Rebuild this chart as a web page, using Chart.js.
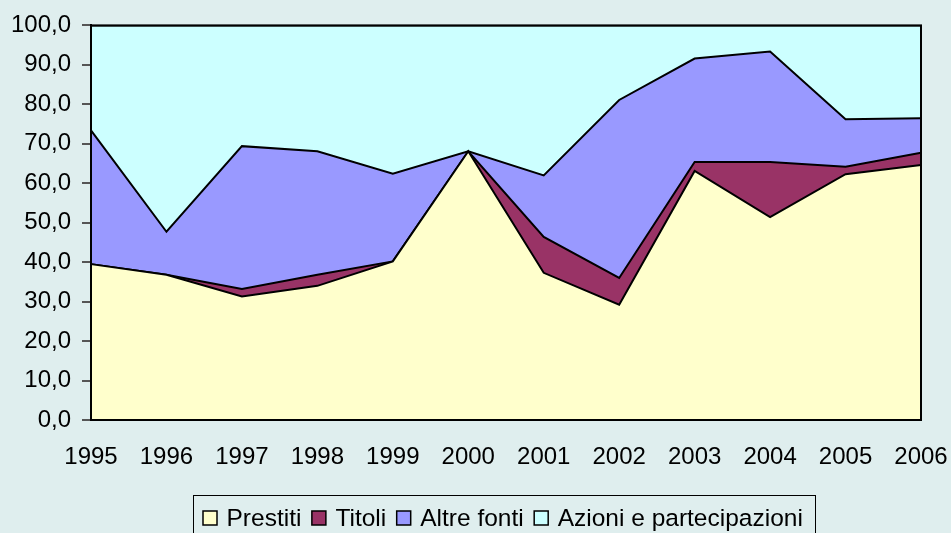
<!DOCTYPE html>
<html>
<head>
<meta charset="utf-8">
<title>Fonti di finanziamento</title>
<script src="https://cdn.jsdelivr.net/npm/chart.js@4.4.1/dist/chart.umd.min.js"></script>
<style>
    html, body { margin: 0; padding: 0; background: #dfeeee; }
    #wrap { width: 951px; height: 533px; position: relative; }
</style>
</head>
<body>
<div id="wrap"><canvas id="fontiChart"></canvas></div>
<script>
// Dati (valori percentuali, cumulati a 100)
const anni = ['1995', '1996', '1997', '1998', '1999', '2000', '2001', '2002', '2003', '2004', '2005', '2006'];
const prestiti = [39.5, 36.8, 31.3, 34.0, 40.2, 68.1, 37.3, 29.2, 63.1, 51.4, 62.3, 64.6];
const titoli = [0, 0, 1.9, 2.8, 0, 0, 9.1, 6.8, 2.3, 14.0, 1.9, 3.1];
const altreFonti = [33.9, 10.9, 36.2, 31.3, 22.2, 0, 15.6, 45.1, 26.2, 28.0, 12.0, 8.8];
const azioni = [26.6, 52.3, 30.6, 31.9, 37.6, 31.9, 38.0, 18.9, 8.4, 6.6, 23.8, 23.5];

const serie = ['Prestiti', 'Titoli', 'Altre fonti', 'Azioni e partecipazioni'];
const colori = ['#ffffcc', '#993366', '#9999ff', '#ccffff'];
const valori = [prestiti, titoli, altreFonti, azioni];

const FONT = 'Arial, "Liberation Sans", sans-serif';

// Bordo nero attorno all'area del grafico
const plotBorder = {
    id: 'plotBorder',
    afterDatasetsDraw(chart) {
        const { ctx, chartArea: a } = chart;
        ctx.save();
        ctx.strokeStyle = '#000';
        ctx.lineWidth = 2;
        ctx.strokeRect(a.left, a.top, a.right - a.left, a.bottom - a.top);
        ctx.restore();
    }
};

// Legenda in basso con riquadro
const boxLegend = {
    id: 'boxLegend',
    afterDraw(chart) {
        const ctx = chart.ctx;
        ctx.save();
        ctx.strokeStyle = '#000';
        ctx.lineWidth = 1;
        ctx.strokeRect(193.5, 495.5, 622, 50);
        ctx.font = '24.5px ' + FONT;
        ctx.textBaseline = 'middle';
        ctx.textAlign = 'left';
        let x = 203;
        const yc = 518;
        chart.data.datasets.forEach(ds => {
            ctx.fillStyle = ds.backgroundColor;
            ctx.fillRect(x, yc - 7, 14, 14);
            ctx.strokeStyle = '#000';
            ctx.lineWidth = 1.5;
            ctx.strokeRect(x, yc - 7, 14, 14);
            ctx.fillStyle = '#000';
            ctx.fillText(ds.label, x + 23.5, yc + 1);
            x += 23.5 + ctx.measureText(ds.label).width + 10.5;
        });
        ctx.restore();
    }
};

const ctx = document.getElementById('fontiChart').getContext('2d');
const fontiChart = new Chart(ctx, {
    type: 'line',
    data: {
        labels: anni,
        datasets: serie.map((nome, i) => ({
            label: nome,
            data: valori[i],
            backgroundColor: colori[i],
            borderColor: '#000',
            borderWidth: 2,
            fill: i === 0 ? 'origin' : '-1',
            tension: 0,
            pointRadius: 0,
            pointHoverRadius: 0
        }))
    },
    options: {
        responsive: true,
        maintainAspectRatio: false,
        animation: false,
        layout: {
            padding: { left: 0, top: 24, right: 30, bottom: 0 }
        },
        plugins: {
            legend: { display: false },
            tooltip: { enabled: false }
        },
        scales: {
            x: {
                offset: false,
                grid: { display: false },
                border: { display: false },
                ticks: {
                    color: '#000',
                    font: { size: 24, family: FONT },
                    maxRotation: 0,
                    autoSkip: false,
                    padding: 15
                },
                afterFit(scale) {
                    scale.height = 113;
                    scale.paddingLeft = 0;
                    scale.paddingRight = 0;
                }
            },
            y: {
                stacked: true,
                min: 0,
                max: 100,
                grid: {
                    drawOnChartArea: false,
                    drawTicks: true,
                    tickLength: 9,
                    color: '#555',
                    lineWidth: 2
                },
                border: { display: true, color: '#000', width: 2 },
                ticks: {
                    stepSize: 10,
                    color: '#000',
                    padding: 11,
                    font: { size: 24, family: FONT },
                    callback: v => v.toFixed(1).replace('.', ',')
                },
                afterFit(scale) { scale.width = 91; }
            }
        }
    },
    plugins: [plotBorder, boxLegend]
});
</script>
</body>
</html>
